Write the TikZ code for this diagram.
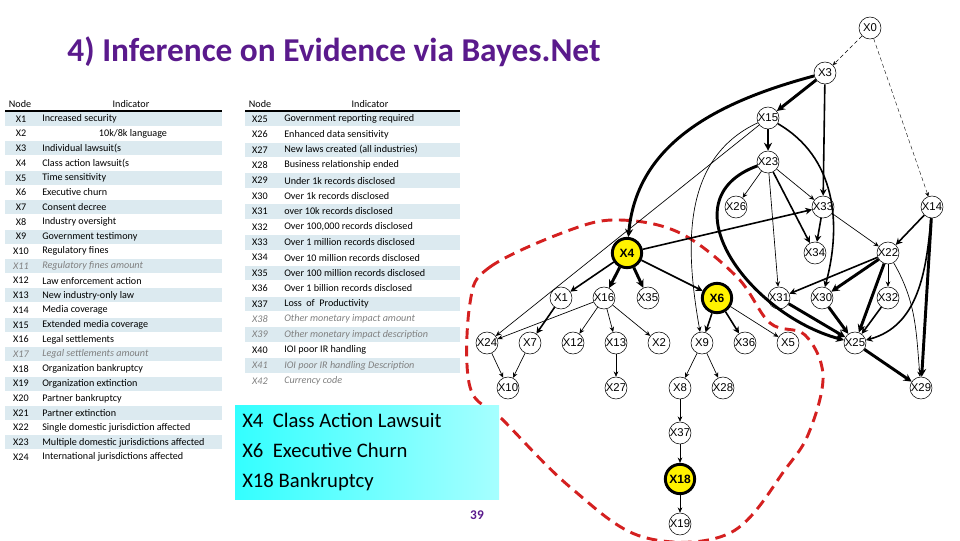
\documentclass[tikz,border=0pt]{standalone}
\usepackage{fontspec}
\setmainfont{Carlito}
\newfontfamily\arialf{Liberation Sans}
\usetikzlibrary{arrows.meta}
\definecolor{ttl}{HTML}{5A1A8C}
\definecolor{stripe}{HTML}{DCEAF0}
\definecolor{rdash}{HTML}{D42020}
\tikzset{
 gn/.style={circle,draw,line width=0.4pt,inner sep=0pt,minimum size=16.5pt,font=\arialf\fontsize{8.5}{9}\selectfont},
 yn/.style={circle,draw,line width=2.2pt,fill=yellow,inner sep=0pt,minimum size=22pt,font=\arialf\bfseries\fontsize{9}{10}\selectfont},
 ea/.style={-{Stealth[length=4pt,width=3.5pt]},line width=0.5pt},
 eb/.style={-{Stealth[length=5pt,width=5pt]},line width=1.2pt},
 ec/.style={-{Stealth[length=6pt,width=6pt]},line width=2.2pt},
 ed/.style={-{Stealth[length=3pt,width=3pt]},line width=0.3pt,densely dashed},
 tx/.style={anchor=west,inner sep=0pt,font=\fontsize{7.6}{8}\selectfont},
 tn/.style={anchor=center,inner sep=0pt,font=\fontsize{7.6}{8}\selectfont},
 gx/.style={text=gray,font=\itshape\fontsize{7.6}{8}\selectfont},
}
\begin{document}
\begin{tikzpicture}[x=0.75pt,y=-0.75pt]
\useasboundingbox (0,0) rectangle (960,540);
\node[text=ttl,font=\bfseries\fontsize{25}{28}\selectfont] (title) at (334,52) {4) Inference on Evidence via Bayes.Net};
% left table
\foreach \i in {1,3,...,23}{\fill[stripe] (5,{119+(\i-1)*14.7-7}) rectangle (222,{119+(\i-1)*14.7+7});}
\node[tn] (lh1) at (20,104) {Node};
\node[tn] (lh2) at (131,104) {Indicator};
\draw[line width=1pt] (5,111) -- (222,111);
\foreach \n/\t/\s [count=\k from 0] in {X1/Increased security/0,X2//0,X3/Individual lawsuit(s/0,X4/Class action lawsuit(s/0,X5/Time sensitivity/0,X6/Executive churn/0,X7/Consent decree/0,X8/Industry oversight/0,X9/Government testimony/0,X10/Regulatory fines/0,X11/Regulatory fines amount/1,X12/Law enforcement action/0,X13/New industry-only law/0,X14/Media coverage/0,X15/Extended media coverage/0,X16/Legal settlements/0,X17/Legal settlements amount/1,X18/Organization bankruptcy/0,X19/Organization extinction/0,X20/Partner bankruptcy/0,X21/Partner extinction/0,X22/Single domestic jurisdiction affected/0,X23/Multiple domestic jurisdictions affected/0,X24/International jurisdictions affected/0}{
 \ifnum\s=1
 \node[tn,gx] (ln\k) at (21,{119+\k*14.7}) {\n};
 \node[tx,gx] (lt\k) at (42,{119+\k*14.7}) {\t};
 \else
 \node[tn] (ln\k) at (21,{119+\k*14.7}) {\n};
 \node[tx] (lt\k) at (42,{119+\k*14.7}) {\t};
 \fi}
\node[tn] (lt2b) at (133,{119+14.7}) {10k/8k language};
% right table
\foreach \i in {0,2,...,16}{\fill[stripe] (245,{119+\i*15.4-7.3}) rectangle (460,{119+\i*15.4+7.3});}
\node[tn] (rh1) at (260,104) {Node};
\node[tn] (rh2) at (370,104) {Indicator};
\draw[line width=1pt] (245,111) -- (460,111);
\foreach \n/\t/\s [count=\k from 0] in {X25/Government reporting required/0,X26/Enhanced data sensitivity/0,X27/New laws created (all industries)/0,X28/Business relationship ended/0,X29/Under 1k records disclosed/0,X30/Over 1k records disclosed/0,X31/over 10k records disclosed/0,X32/{Over 100,000 records disclosed}/0,X33/Over 1 million records disclosed/0,X34/Over 10 million records disclosed/0,X35/Over 100 million records disclosed/0,X36/Over 1 billion records disclosed/0,X37/Loss\ \ of\ \ Productivity/0,X38/Other monetary impact amount/1,X39/Other monetary impact description/1,X40/IOI poor IR handling/0,X41/IOI poor IR handling Description/1,X42/Currency code/1}{
 \ifnum\s=1
 \node[tn,gx] (rn\k) at (260,{119+\k*15.4}) {\n};
 \node[tx,gx] (rt\k) at (284,{119+\k*15.4}) {\t};
 \else
 \node[tn] (rn\k) at (260,{119+\k*15.4}) {\n};
 \node[tx] (rt\k) at (284,{119+\k*15.4}) {\t};
 \fi}
% red blob
\draw[rdash,line width=2.2pt,dash pattern=on 8pt off 5pt] plot[smooth cycle,tension=0.6] coordinates {(470,303) (490,267) (570,230) (620,220) (680,233) (737,277) (770,323) (805,335) (823,375) (810,430) (787,467) (730,533) (643,537) (570,487) (503,420) (470,387)};
% cyan box
\shade[left color=cyan!80!white,right color=cyan!35!white] (235,405) rectangle (499,499);
\node[anchor=north west,align=left,inner sep=0pt,font=\fontsize{15.5}{22.5}\selectfont] (box) at (242,413) {X4\ \ Class Action Lawsuit\\X6\ \ Executive Churn\\X18 Bankruptcy};
\node[text=ttl,font=\bfseries\fontsize{10}{12}\selectfont] (pg) at (477,515) {39};
% graph nodes
\foreach \n/\x/\y in {X0/870/28,X3/825/73,X15/768/118,X23/768/162,X26/736/207,X33/823/207,X14/932/207,X34/815/253,X22/888/253,X1/561/298,X16/604/298,X35/648/298,X31/779/298,X30/822/298,X32/888/298,X24/487/343,X7/530/343,X12/573/343,X13/616/343,X2/659/343,X9/702/343,X36/745/343,X5/788/343,X25/855/343,X10/508/388,X27/616/388,X8/680/388,X28/723/388,X29/921/388,X37/680/433,X19/680/524}{\node[gn,fill=white] (\n) at (\x,\y) {\n};}
\node[yn] (X4) at (627,253) {X4};
\node[yn] (X6) at (717,298) {X6};
\node[yn] (X18) at (680,479) {X18};
% edges
\draw[ed] (X0) -- (X3);
\draw[ed] (X0) -- (X14);
\draw[ec] (X3) -- (X15);
\draw[eb] (X3) -- (X33);
\draw[ec] (X3) to[out=195,in=85] (X4);
\draw[ec] (X15) -- (X23);
\draw[ea] (X15) -- (X24);
\draw[ea] (X15) to[out=205,in=100] (X9);
\draw[eb] (X15) to[out=-30,in=75] (X30);
\draw[ea] (X23) -- (X26);
\draw[ea] (X23) -- (X33);
\draw[eb] (X23) -- (X34);
\draw[ea] (X23) -- (X31);
\draw[ec] (X23) to[out=200,in=165,looseness=1.3] (X25);
\draw[eb] (X33) -- (X34);
\draw[ea] (X33) -- (X22);
\draw[eb] (X4) -- (X33);
\draw[eb] (X14) -- (X22);
\draw[ec] (X14) -- (X29);
\draw[eb] (X14) to[out=-95,in=15] (X25);
\draw[eb] (X22) -- (X31);
\draw[ec] (X22) -- (X30);
\draw[ea] (X22) -- (X32);
\draw[ec] (X22) -- (X25);
\draw[ea] (X22) to[out=-60,in=95] (X29);
\draw[eb] (X4) -- (X1);
\draw[ec] (X4) -- (X16);
\draw[ec] (X4) -- (X35);
\draw[eb] (X4) -- (X6);
\draw[eb] (X1) -- (X7);
\draw[ea] (X16) -- (X24);
\draw[ea] (X16) -- (X12);
\draw[ea] (X16) -- (X13);
\draw[ea] (X16) -- (X2);
\draw[eb] (X6) -- (X9);
\draw[eb] (X6) -- (X36);
\draw[ea] (X6) -- (X5);
\draw[ec] (X31) -- (X25);
\draw[ec] (X30) -- (X25);
\draw[eb] (X32) -- (X25);
\draw[ec] (X25) -- (X29);
\draw[ea] (X24) -- (X10);
\draw[ea] (X7) -- (X10);
\draw[ea] (X13) -- (X27);
\draw[ea] (X9) -- (X8);
\draw[ea] (X9) -- (X28);
\draw[ea] (X8) -- (X37);
\draw[ea] (X37) -- (X18);
\draw[ea] (X18) -- (X19);
\end{tikzpicture}
\end{document}
